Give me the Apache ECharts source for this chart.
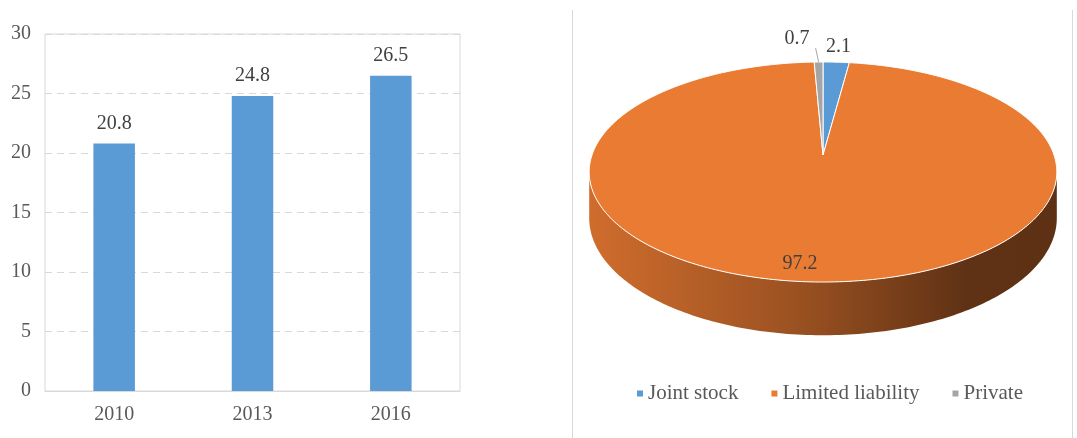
<!DOCTYPE html>
<html>
<head>
<meta charset="utf-8">
<script src="https://cdn.jsdelivr.net/npm/echarts@6/dist/echarts.min.js"></script>
<style>
html, body { margin: 0; background: #fff; }
#chart { width: 1077px; height: 438px; }
</style>
</head>
<body>
<div id="chart"></div>
<script>
// bar chart data
const years = ['2010', '2013', '2016'];
const yearValues = [20.8, 24.8, 26.5];

// pie chart data
const ownershipNames = ['Joint stock', 'Limited liability', 'Private'];
const ownershipValues = [2.1, 97.2, 0.7];

const ownershipColors = ['#5B9BD5', '#EA7B32', '#A5A5A5'];
const FONT = '"Liberation Serif", "Times New Roman", serif';

// 3D pie projection (perspective tilt of a flat disc)
const PIE = { cx: 823, cy: 155, R: 231, Q: 107.4, k: 0.1545, D: 45 };

function proj(theta, r) {
    // theta: clockwise from 12 o'clock
    const u = r * Math.sin(theta), v = -r * Math.cos(theta);
    const w = 1 - PIE.k * v;
    return [PIE.cx + PIE.R * u / w, PIE.cy + PIE.Q * v / w, PIE.D / w];
}

const total = ownershipValues.reduce((a, b) => a + b, 0);
const startAngles = [];
(function () {
    let acc = 0;
    ownershipValues.forEach(v => { startAngles.push(acc / total * Math.PI * 2); acc += v; });
})();

function shade(hex, f) {
    const n = parseInt(hex.slice(1), 16);
    const r = Math.round(((n >> 16) & 255) * f), g = Math.round(((n >> 8) & 255) * f), b = Math.round((n & 255) * f);
    return 'rgb(' + r + ',' + g + ',' + b + ')';
}

function arcPoints(a, b, r) {
    const steps = Math.max(2, Math.ceil((b - a) / (Math.PI / 180)));
    const pts = [];
    for (let s = 0; s <= steps; s++) {
        pts.push(proj(a + (b - a) * s / steps, r));
    }
    return pts;
}

function renderSlice(i, value) {
    const t0 = startAngles[i];
    const t1 = t0 + value / total * Math.PI * 2;
    const color = ownershipColors[i];
    const children = [];

    // side wall, only the front part is visible
    const sA = Math.acos(-PIE.k), sB = Math.PI * 2 - sA;
    const a = Math.max(t0, sA), b = Math.min(t1, sB);
    if (b > a) {
        const top = arcPoints(a, b, 1);
        const pts = top.map(p => [p[0], p[1]]);
        for (let j = top.length - 1; j >= 0; j--) pts.push([top[j][0], top[j][1] + top[j][2]]);
        children.push({
            type: 'polygon',
            z2: 0,
            shape: { points: pts },
            style: {
                fill: new echarts.graphic.LinearGradient(PIE.cx - PIE.R * 1.02, 0, PIE.cx + PIE.R * 1.02, 0, [
                    { offset: 0, color: shade(color, 0.89) },
                    { offset: 0.45, color: shade(color, 0.66) },
                    { offset: 0.8, color: shade(color, 0.41) },
                    { offset: 1, color: shade(color, 0.4) }
                ], true)
            }
        });
    }

    // top face
    const facePts = [[PIE.cx, PIE.cy]].concat(arcPoints(t0, t1, 1).map(p => [p[0], p[1]]));
    children.push({
        type: 'polygon',
        z2: 10,
        shape: { points: facePts },
        style: { fill: color, stroke: '#fff', lineWidth: 1 }
    });

    // data label
    const mid = (t0 + t1) / 2;
    const labelStyle = { text: String(value), font: '20px ' + FONT, fill: '#404040' };
    if (value >= 5) {
        const p = proj(mid, 0.86);
        children.push({ type: 'text', z2: 20, style: Object.assign({ x: p[0] - 13, y: p[1] + 2, align: 'center', verticalAlign: 'middle' }, labelStyle) });
    } else if (mid > Math.PI) {
        const p = proj(mid, 1);
        children.push({
            type: 'line', z2: 20,
            shape: { x1: p[0], y1: p[1], x2: p[0] - 3, y2: p[1] - 14 },
            style: { stroke: '#a6a6a6', lineWidth: 1 }
        });
        children.push({ type: 'text', z2: 20, style: Object.assign({ x: p[0] - 9, y: p[1] - 23, align: 'right', verticalAlign: 'middle' }, labelStyle) });
    } else {
        const p = proj(mid, 1.2);
        children.push({ type: 'text', z2: 20, style: Object.assign({ x: p[0], y: p[1], align: 'center', verticalAlign: 'middle' }, labelStyle) });
    }

    return { type: 'group', children: children };
}

const sliceSeries = ownershipNames.map((name, i) => ({
    type: 'custom',
    name: name,
    coordinateSystem: 'none',
    itemStyle: { color: ownershipColors[i] },
    data: [ownershipValues[i]],
    renderItem: (params, api) => renderSlice(i, api.value(0))
}));

const chart = echarts.init(document.getElementById('chart'));
chart.setOption({
    backgroundColor: '#fff',
    animation: false,
    textStyle: { fontFamily: FONT },
    grid: {
        show: true,
        borderColor: '#d9d9d9',
        borderWidth: 1,
        left: 45, top: 34, width: 415, height: 357
    },
    xAxis: {
        type: 'category',
        data: years,
        axisTick: { show: false },
        axisLine: { lineStyle: { color: '#d9d9d9' } },
        axisLabel: { color: '#595959', fontSize: 20, fontFamily: FONT, margin: 14 }
    },
    yAxis: {
        type: 'value',
        min: 0, max: 30, interval: 5,
        axisLine: { show: false },
        axisTick: { show: false },
        axisLabel: { color: '#595959', fontSize: 20, fontFamily: FONT, margin: 14 },
        splitLine: { lineStyle: { color: '#d9d9d9', type: [7, 5] } }
    },
    legend: {
        data: ownershipNames,
        left: 632, top: 378,
        icon: 'rect',
        itemWidth: 6, itemHeight: 6,
        itemGap: 33,
        textStyle: { color: '#595959', fontSize: 21, fontFamily: FONT }
    },
    graphic: [
        { type: 'line', shape: { x1: 572.5, y1: 10, x2: 572.5, y2: 438 }, style: { stroke: '#d9d9d9', lineWidth: 1 } },
        { type: 'line', shape: { x1: 1072.5, y1: 10, x2: 1072.5, y2: 438 }, style: { stroke: '#d9d9d9', lineWidth: 1 } }
    ],
    series: [{
        type: 'bar',
        data: yearValues,
        barWidth: '30%',
        itemStyle: { color: '#5B9BD5' },
        label: { show: true, position: 'top', distance: 10, color: '#404040', fontSize: 20, fontFamily: FONT }
    }].concat(sliceSeries)
});
</script>
</body>
</html>
